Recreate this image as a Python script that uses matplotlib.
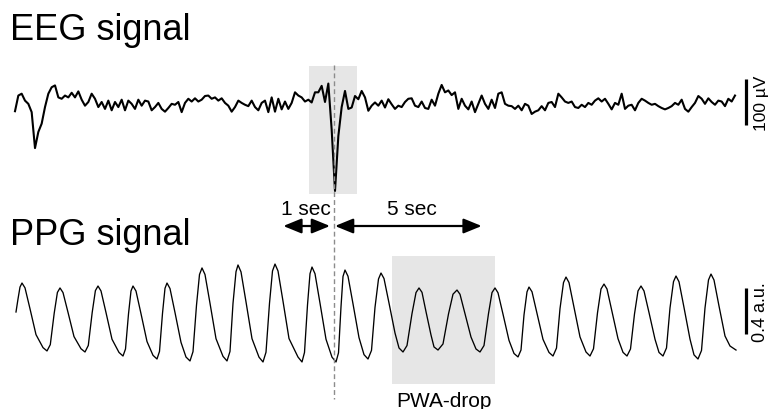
import numpy as np
import matplotlib
matplotlib.use('Agg')
import matplotlib.pyplot as plt
from matplotlib.patches import Rectangle
from matplotlib.lines import Line2D
from matplotlib.transforms import blended_transform_factory

plt.rcParams['font.family'] = ['Liberation Sans', 'DejaVu Sans']

# EEG trace, uV, sampled at 15 Hz
fs_eeg = 15.0
eeg_uv = [
    -20, 14, 18, 3, -4, -22, -100, -65, -47, -11, 18, 32, 36, 10, 7, 14, 10, 20, 10, 23,
    5, -8, 0, 18, 7, -11, 0, -15, 3, -18, 0, -11, 5, -18, 3, -4, -15, 5, -8, 3,
    1, -18, -11, -2,
    -15, -21, -13, -4, -6, 0, -22, -2, 7, 1, 8, 1, 5, 13, 14, 7, 10, 3, 8, -2,
    -8, -21, -11, 3, -2, -6, -9, 3, -11, -18, -2, 3, -22, 10, -21, 7, -16, 1, -15, -2,
    21, 14, 10, 1, 5,
    -1, 21, 21, 35, 0, 40, -60, -193, -74, -11, 24, -15, -12, 13, 6, 24, 10, -19, -8, -1,
    -8, 3, -12, 6, -5, -15, -8,
    -11, 0, 7, 8, -8, -11, 1, -13, -15, 5, -8, 18, 37, 21, 25, 15, 21, -15, 7, -8,
    -16, 1, -22, -4, 14, -4, -15, 5, -13, 18, 21, -4, -8, -9, -15, -8, -18, -4, -8, -26,
    -21, -18, -9, -18, -2, 0, -11, 18, 10, 1, -2,
    1, -11, -13, -6, -11, -2, -6, 3, 8, 1, 7, -4, -16, -2, -6, 18, -15, -8, -6, -18,
    -2, 7, 3, -2, -6, -4, -9, -13, -16, -13, -9, -2, -6, 5, -15, -21, -11, -2, 13, 7,
    -4, 8, 0, -6, 3, 1, -9, 7, 1, 14,
]

# PPG trace (s, a.u.)
ppg_t = [
    0.02, 0.06, 0.10,
    0.14, 0.20, 0.30, 0.42, 0.56, 0.64, 0.706, 0.784, 0.848,
    0.90, 0.96, 1.06, 1.18, 1.32, 1.40, 1.466, 1.544, 1.608,
    1.66, 1.72, 1.82, 1.94, 2.08, 2.16, 2.21, 2.27, 2.32,
    2.36, 2.42, 2.52, 2.64, 2.76, 2.84, 2.89, 2.95, 3.00,
    3.04, 3.10, 3.20, 3.32, 3.42, 3.50, 3.56, 3.63, 3.69,
    3.74, 3.80, 3.90, 4.02, 4.16, 4.24, 4.30, 4.36, 4.42,
    4.46, 4.52, 4.62, 4.74, 4.88, 4.96, 5.02, 5.09, 5.15,
    5.20, 5.26, 5.36, 5.48, 5.66, 5.74, 5.79, 5.85, 5.90,
    5.94, 6.00, 6.10, 6.22, 6.34, 6.42, 6.47, 6.52, 6.56,
    6.60, 6.66, 6.76, 6.88, 6.98, 7.06, 7.13, 7.20, 7.27,
    7.32, 7.38, 7.48, 7.60, 7.68, 7.76, 7.84, 7.94, 8.02,
    8.08, 8.14, 8.22, 8.32, 8.38, 8.46, 8.56, 8.67, 8.76,
    8.84, 8.90, 9.00, 9.12, 9.22, 9.30, 9.38, 9.47, 9.54,
    9.60, 9.66, 9.76, 9.88, 9.98, 10.06, 10.12, 10.18, 10.24,
    10.28, 10.34, 10.44, 10.56, 10.68, 10.76, 10.83, 10.90, 10.97,
    11.02, 11.08, 11.18, 11.30, 11.42, 11.50, 11.57, 11.65, 11.72,
    11.78, 11.84, 11.94, 12.06, 12.16, 12.24, 12.31, 12.39, 12.46,
    12.52, 12.58, 12.68, 12.80, 12.88, 12.96, 13.03, 13.10, 13.17,
    13.22, 13.28, 13.38, 13.50, 13.58, 13.66, 13.73, 13.80, 13.87,
    13.92, 13.98, 14.08, 14.20, 14.30, 14.42,
]
ppg_v = [
    -0.026, 0.087, 0.191,
    0.226, 0.184, 0.002, -0.223, -0.336, -0.365, -0.310, -0.037, 0.144,
    0.183, 0.143, -0.029, -0.240, -0.346, -0.374, -0.317, -0.030, 0.160,
    0.200, 0.157, -0.031, -0.263, -0.378, -0.409, -0.348, -0.043, 0.157,
    0.200, 0.156, -0.041, -0.283, -0.403, -0.435, -0.369, -0.038, 0.180,
    0.226, 0.178, -0.031, -0.290, -0.418, -0.452, -0.371, 0.033, 0.300,
    0.357, 0.300, 0.050, -0.258, -0.412, -0.452, -0.369, 0.049, 0.324,
    0.383, 0.323, 0.062, -0.258, -0.419, -0.461, -0.376, 0.050, 0.331,
    0.391, 0.331, 0.068, -0.257, -0.418, -0.461, -0.378, 0.035, 0.307,
    0.365, 0.307, 0.051, -0.263, -0.419, -0.461, -0.381, 0.019, 0.283,
    0.339, 0.285, 0.045, -0.249, -0.397, -0.435, -0.360, 0.014, 0.261,
    0.313, 0.265, 0.052, -0.209, -0.339, -0.374, -0.318, -0.040, 0.143,
    0.183, 0.145, -0.023, -0.226, -0.330, -0.357, -0.304, -0.043, 0.129,
    0.165, 0.128, -0.040, -0.244, -0.348, -0.374, -0.318, -0.040, 0.143,
    0.183, 0.141, -0.045, -0.273, -0.387, -0.417, -0.357, -0.052, 0.149,
    0.191, 0.150, -0.037, -0.264, -0.378, -0.409, -0.340, 0.003, 0.230,
    0.278, 0.230, 0.017, -0.243, -0.374, -0.409, -0.346, -0.033, 0.174,
    0.217, 0.174, -0.021, -0.258, -0.377, -0.409, -0.348, -0.043, 0.157,
    0.200, 0.157, -0.031, -0.263, -0.378, -0.409, -0.339, 0.009, 0.238,
    0.287, 0.237, 0.013, -0.262, -0.399, -0.435, -0.361, 0.009, 0.253,
    0.304, 0.252, 0.026, -0.235, -0.322, -0.357,
]

# event marker, windows and scale bars
t_event = 6.38
eeg_window = (5.886, 6.834)
pwa_window = (7.54, 9.60)
eeg_bar = 100      # uV
ppg_bar = 0.4      # a.u.

t_min, t_max = -0.30, 15.14
shade = '#e6e6e6'

fig = plt.figure(figsize=(7.72, 4.10), dpi=100)
ax_eeg = fig.add_axes([0, 210 / 410, 1, 140 / 410])
ax_ppg = fig.add_axes([0, 0, 1, 160 / 410])
for ax in (ax_eeg, ax_ppg):
    ax.set_xlim(t_min, t_max)
    ax.axis('off')
ax_eeg.set_ylim(-210.5, 93.3)
ax_ppg.set_ylim(-0.870, 0.522)

# EEG
eeg_t = np.arange(len(eeg_uv)) / fs_eeg
ax_eeg.add_patch(Rectangle((eeg_window[0], -199.6), eeg_window[1] - eeg_window[0], 277.1,
                           facecolor=shade, edgecolor='none', zorder=0))
ax_eeg.plot(eeg_t, eeg_uv, color='black', lw=1.5, zorder=3)
ax_eeg.plot([14.62, 14.62], [-50, -50 + eeg_bar], color='black', lw=2.3,
            solid_capstyle='butt')
ax_eeg.text(14.93, 0, '%d µV' % eeg_bar, rotation=90, ha='center', va='center', fontsize=12.5)

# PPG
ax_ppg.add_patch(Rectangle((pwa_window[0], -0.652), pwa_window[1] - pwa_window[0], 1.113,
                           facecolor=shade, edgecolor='none', zorder=0))
ax_ppg.plot(ppg_t, ppg_v, color='black', lw=0.95, zorder=3, solid_joinstyle='round')
ax_ppg.plot([14.62, 14.62], [-0.217, -0.217 + ppg_bar], color='black', lw=2.3,
            solid_capstyle='butt')
ax_ppg.text(14.91, -0.017, '%.1f a.u.' % ppg_bar, rotation=90, ha='center', va='center',
            fontsize=13)

# dashed event line running through both traces
trans = blended_transform_factory(ax_ppg.transData, fig.transFigure)
fig.add_artist(Line2D([t_event, t_event], [1 - 66 / 410, 1 - 400 / 410], transform=trans,
                      color='#8c8c8c', lw=1.0, dashes=(3.5, 2.2), zorder=2))

# interval arrows
arrow_y = 1 - 227 / 410
aprops = dict(arrowstyle='<|-|>,head_length=1.1,head_width=0.45', mutation_scale=10,
              lw=1.6, color='black', shrinkA=0, shrinkB=0)
ax_ppg.annotate('', xy=(6.30, arrow_y), xytext=(5.366, arrow_y), xycoords=trans,
                textcoords=trans, arrowprops=aprops, annotation_clip=False)
ax_ppg.annotate('', xy=(9.334, arrow_y), xytext=(6.40, arrow_y), xycoords=trans,
                textcoords=trans, arrowprops=aprops, annotation_clip=False)
ax_ppg.text(5.82, 1 - 215 / 410, '1 sec', transform=trans, ha='center', va='baseline',
            fontsize=15)
ax_ppg.text(7.93, 1 - 215 / 410, '5 sec', transform=trans, ha='center', va='baseline',
            fontsize=15)
ax_ppg.text(8.57, 1 - 407 / 410, 'PWA-drop', transform=trans, ha='center', va='baseline',
            fontsize=15)

# panel titles
fig.text(10.5 / 772, 1 - 39.5 / 410, 'EEG signal', fontsize=26, va='baseline')
fig.text(10.5 / 772, 1 - 245 / 410, 'PPG signal', fontsize=26, va='baseline')

fig.savefig('out.png', dpi=100)
